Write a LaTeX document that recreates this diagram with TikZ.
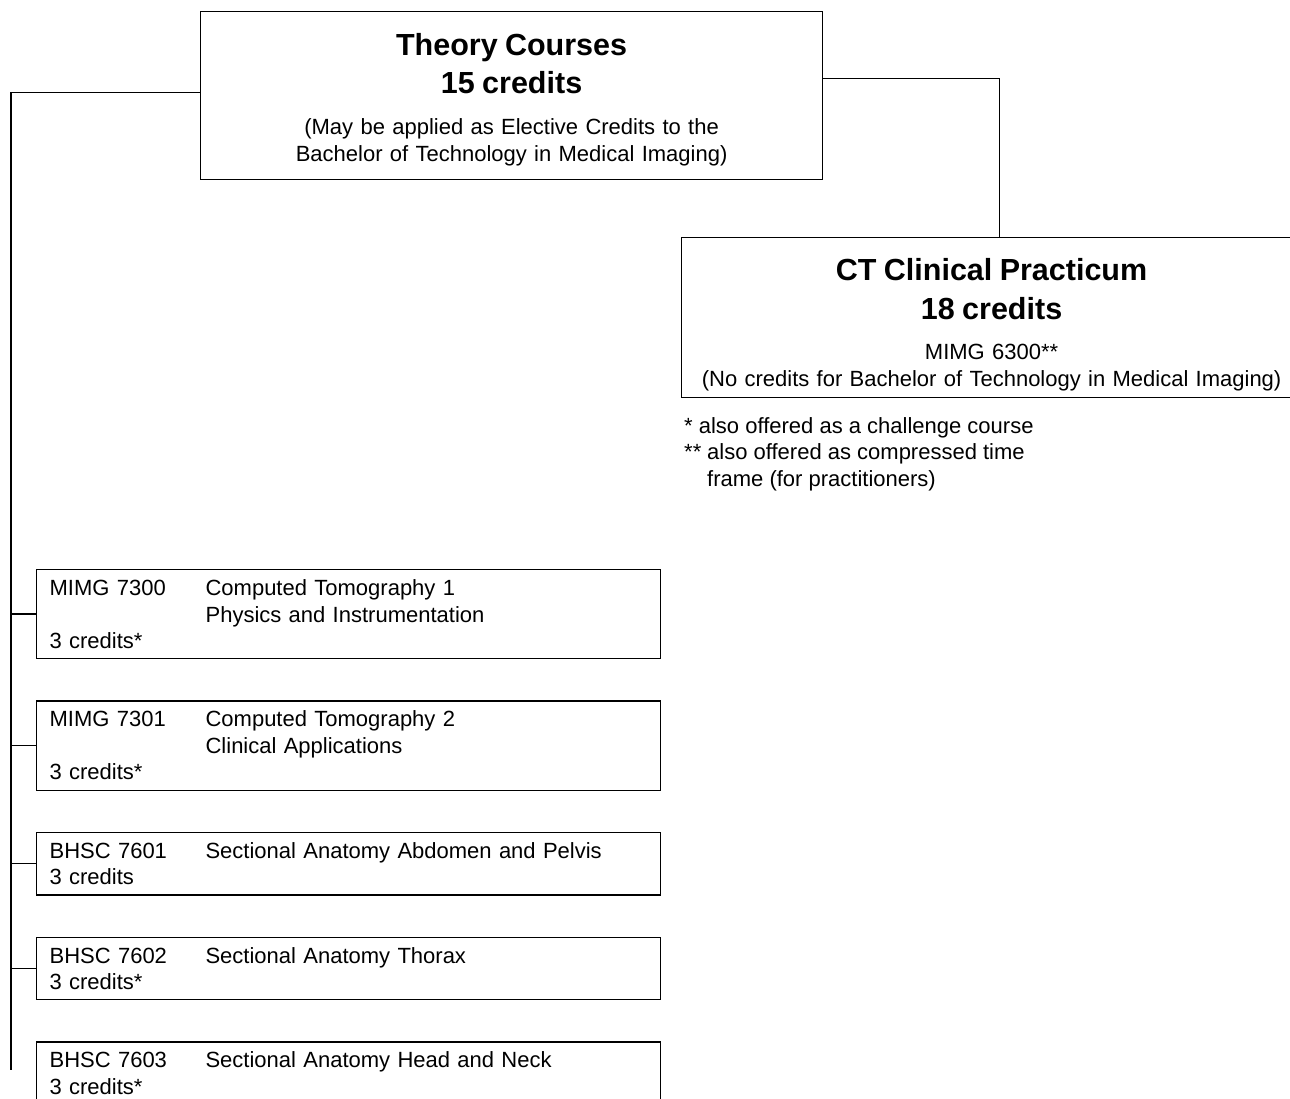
\documentclass[tikz,border=0pt]{standalone}
\usepackage{fontspec}
\setmainfont{Liberation Sans}
\usetikzlibrary{positioning}
\newcommand{\headfont}{\fontsize{30.5}{38}\selectfont\bfseries}
\newcommand{\bodyfont}{\fontsize{22}{26.5}\selectfont}
\newcommand{\coursecode}[1]{\makebox[156pt][l]{#1}}
\tikzset{headbox/.style={rectangle,draw,line width=1.2pt,align=center,inner sep=0pt,anchor=north west,font=\bodyfont},coursebox/.style={rectangle,draw,line width=1.2pt,align=left,text width=598pt,inner xsep=13pt,inner ysep=10pt,font=\bodyfont},line/.style={line width=1.4pt}}

\begin{document}
\begin{tikzpicture}[x=1pt,y=-1pt,node distance=41pt]
\useasboundingbox (0,0) rectangle (1290,1098);
\node[headbox,text width=622pt,minimum height=168pt] (theory) at (200,11) {{\headfont\rule{0pt}{30pt}Theory Courses\\15 credits\par}\vspace{15pt}(May be applied as Elective Credits to the\\Bachelor of Technology in Medical Imaging)};
\node[headbox,text width=620pt,minimum height=160pt] (clinical) at (681,237) {{\headfont\rule{0pt}{36pt}CT Clinical Practicum\\[1pt]18 credits\par}\vspace{14pt}MIMG 6300**\\[0.5pt](No credits for Bachelor of Technology in Medical Imaging)};
\node[anchor=north west,inner sep=0pt,align=left,font=\bodyfont] (notes) at (684,417) {* also offered as a challenge course\\\makebox[23pt][l]{**}also offered as compressed time\\\hspace*{23pt}frame (for practitioners)};
\node[coursebox,anchor=north west] (c1) at (36,569) {\coursecode{MIMG 7300}Computed Tomography 1\\\coursecode{}Physics and Instrumentation\\3 credits*};
\node[coursebox,below=of c1] (c2) {\coursecode{MIMG 7301}Computed Tomography 2\\\coursecode{}Clinical Applications\\3 credits*};
\node[coursebox,below=of c2] (c3) {\coursecode{BHSC 7601}Sectional Anatomy Abdomen and Pelvis\\3 credits};
\node[coursebox,below=of c3] (c4) {\coursecode{BHSC 7602}Sectional Anatomy Thorax\\3 credits*};
\node[coursebox,below=of c4] (c5) {\coursecode{BHSC 7603}Sectional Anatomy Head and Neck\\3 credits*};
\coordinate (spine) at (11,1070);
\draw[line] ([yshift=3pt]theory.west) -| (spine);
\draw[line] ([yshift=17pt]theory.east) -| ([xshift=8pt]clinical.north);
\draw[line] (spine |- c1.west) -- (c1.west);
\draw[line] (spine |- c2.west) -- (c2.west);
\draw[line] (spine |- c3.west) -- (c3.west);
\draw[line] (spine |- c4.west) -- (c4.west);
\end{tikzpicture}
\end{document}
